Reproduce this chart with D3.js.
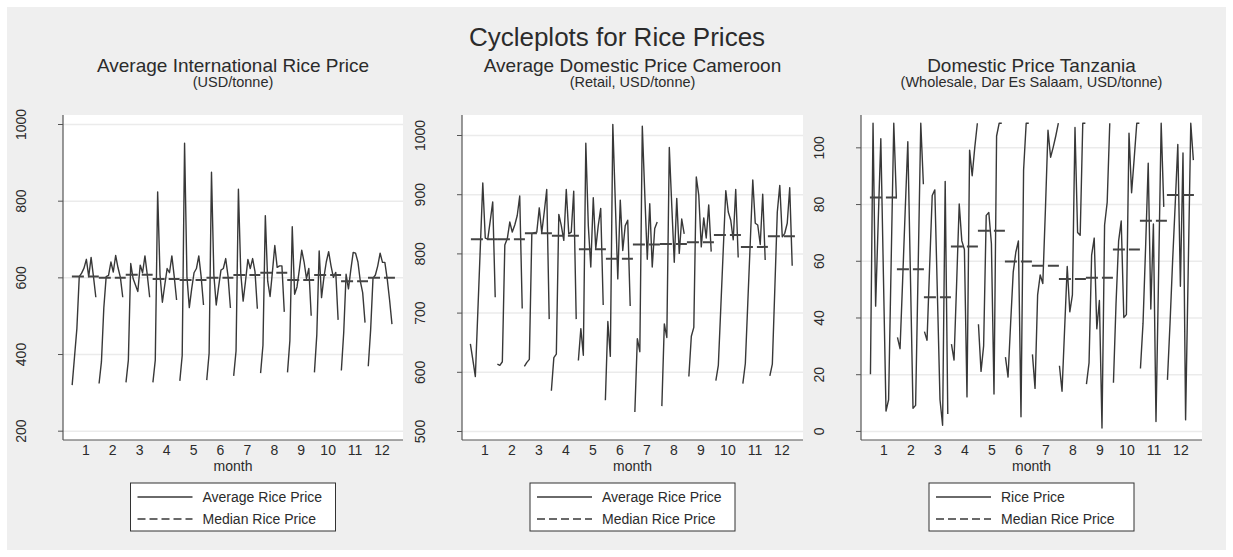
<!DOCTYPE html>
<html>
<head>
<meta charset="utf-8">
<script src="https://d3js.org/d3.v7.min.js"></script>
<style>
	body { margin: 0; background: #ffffff; }
	svg { display: block; font-family: "Liberation Sans", Arial, sans-serif; }
</style>
</head>
<body>
<svg id="svg_main" width="1233" height="557"></svg>
<script>
// months on the x axis
var months = [1, 2, 3, 4, 5, 6, 7, 8, 9, 10, 11, 12];

// average international price, one row per month, one value per year
var intlPrice = [
	[319, 393, 467, 602, 611, 624, 647, 602, 652, 602, 548],
	[323, 380, 520, 602, 605, 640, 614, 657, 625, 600, 548],
	[326, 384, 636, 597, 580, 563, 632, 612, 656, 606, 548],
	[326, 384, 823, 606, 535, 580, 623, 612, 656, 602, 541],
	[330, 396, 950, 602, 521, 570, 612, 623, 656, 602, 528],
	[332, 402, 874, 606, 528, 575, 619, 623, 649, 602, 520],
	[343, 408, 830, 610, 538, 590, 647, 623, 649, 615, 518],
	[350, 423, 761, 590, 550, 615, 683, 626, 630, 630, 510],
	[352, 435, 732, 556, 575, 620, 671, 640, 597, 623, 500],
	[352, 450, 669, 547, 600, 640, 667, 630, 600, 613, 489],
	[357, 456, 608, 570, 620, 665, 663, 640, 590, 560, 482],
	[368, 463, 598, 606, 630, 663, 639, 639, 596, 541, 478]
];
var intlMedian = [602, 599, 607, 596, 593, 599, 606, 612, 593, 606, 590, 599];

// Cameroon retail price
var camPrice = [
	[647, 620, 592, 701, 810, 919, 826, 824, 855, 887, 726],
	[613, 611, 617, 814, 825, 853, 836, 848, 864, 897, 707],
	[609, 616, 621, 833, 835, 836, 877, 835, 870, 908, 689],
	[568, 624, 630, 866, 847, 822, 908, 833, 836, 905, 689],
	[619, 673, 628, 986, 847, 777, 894, 808, 847, 876, 713],
	[552, 685, 626, 1018, 887, 757, 890, 805, 847, 856, 711],
	[null, 532, 656, 634, 1015, 900, 790, 884, 777, 842, 853],
	[null, 542, 681, 658, 979, 880, 785, 893, 800, 858, 833],
	[null, 592, 660, 675, 929, 898, 811, 860, 826, 882, 803],
	[null, 585, 611, 709, 808, 906, 870, 856, 823, 908, 793],
	[null, 580, 614, 717, 820, 924, 851, 848, 815, 900, 789],
	[null, 593, 613, 740, 870, 915, 828, 834, 851, 911, 779]
];
var camMedian = [824, 824, 834, 830, 807, 791, 815, 816, 819, 831, 811, 829];

// Tanzania wholesale price
var tzaPrice = [
	[20, 108.5, 44, 74, 103, 55, 7, 11, 60, 108.5, 82],
	[33, 29, 53, 78, 102, 55, 8, 9, 58, 108.5, 87],
	[35, 32, 58, 83, 85, 48, 11, 2, 88, 6, null],
	[30.6, 25, 52, 80, 67, 64, 12, 99, 90, 100, 108.5],
	[37.6, 21, 30, 76, 77, 66, 13, 104, 108.5, 108.5, null],
	[26, 19, 38, 56, 63, 67, 5, 92, 108.5, 108.5, null],
	[27, 15, 48, 55, 52, 78, 106, 96.5, 100, 104, 108.5],
	[23, 14, 36, 58, 42, 48, 107, 70, 69, 108.5, 108.5],
	[16.5, 24, 62, 68, 36, 46, 1, 72.6, 80.6, 108.5, null],
	[17, 45, 67, 74, 40, 41, 105, 84, 96, 108.5, 108.5],
	[22, 38, 65, 94.4, 43, 73, 3.3, 55, 108.5, 79, null],
	[18, 38, 60, 80, 101, 51, 98, 3.9, 56, 108.5, 95.5]
];
var tzaMedian = [82.3, 57, 47.1, 65, 70.6, 59.7, 58.2, 53.6, 54, 64, 74.1, 83.2];

var intlTicks = [200, 400, 600, 800, 1000];
var camTicks = [500, 600, 700, 800, 900, 1000];
var tzaTicks = [0, 20, 40, 60, 80, 100];

var panels = [
	{ title: "Average International Rice Price", sub: "(USD/tonne)",
		data: intlPrice, median: intlMedian, ticks: intlTicks, domain: [175.7, 1023.5],
		left: 63, right: 403, start: -0.49, step: 0.088,
		legend: ["Average Rice Price", "Median Rice Price"] },
	{ title: "Average Domestic Price Cameroon", sub: "(Retail, USD/tonne)",
		data: camPrice, median: camMedian, ticks: camTicks, domain: [484.8, 1033.8],
		left: 462, right: 803, start: -0.52, step: 0.092,
		legend: ["Average Rice Price", "Median Rice Price"] },
	{ title: "Domestic Price Tanzania", sub: "(Wholesale, Dar Es Salaam, USD/tonne)",
		data: tzaPrice, median: tzaMedian, ticks: tzaTicks, domain: [-3.2, 111.4],
		left: 861, right: 1202, start: -0.48, step: 0.096,
		legend: ["Rice Price", "Median Rice Price"] }
];

var plotTop = 115, plotBottom = 440;
var ink = "#383838";

var svg = d3.select("#svg_main");

svg.append("rect")
	.attr("x", 7).attr("y", 7)
	.attr("width", 1219).attr("height", 543)
	.attr("fill", "#efefef");

svg.append("text")
	.attr("x", 617).attr("y", 46)
	.attr("text-anchor", "middle")
	.attr("font-size", "26px")
	.attr("fill", "#2b2b2b")
	.text("Cycleplots for Rice Prices");

function drawPanel(p) {
	var x = d3.scaleLinear().domain([0.17, 12.8]).range([p.left, p.right]);
	var y = d3.scaleLinear().domain(p.domain).range([plotBottom, plotTop]);
	var mid = (p.left + p.right) / 2;

	var g = svg.append("g");

	g.append("rect")
		.attr("x", p.left).attr("y", plotTop)
		.attr("width", p.right - p.left).attr("height", plotBottom - plotTop)
		.attr("fill", "#ffffff");

	// gridlines
	g.append("g")
		.attr("transform", `translate(${p.left}, 0)`)
		.call(d3.axisLeft(y).tickValues(p.ticks).tickSize(-(p.right - p.left)).tickFormat(""))
		.call(a => a.select(".domain").remove())
		.selectAll("line")
			.attr("stroke", "#ebebeb")
			.attr("stroke-width", 1.5);

	// titles
	g.append("text")
		.attr("x", mid).attr("y", 72)
		.attr("text-anchor", "middle")
		.attr("font-size", "19px")
		.attr("fill", "#2b2b2b")
		.text(p.title);
	g.append("text")
		.attr("x", mid).attr("y", 87)
		.attr("text-anchor", "middle")
		.attr("font-size", "14.5px")
		.attr("fill", "#2b2b2b")
		.text(p.sub);

	// series, one broken line per month
	var line = d3.line()
		.defined(d => d.v != null)
		.x(d => x(d.m + p.start + d.i * p.step))
		.y(d => y(d.v));

	months.forEach((m, k) => {
		var pts = p.data[k].map((v, i) => ({ m: m, i: i, v: v }));
		g.append("path")
			.datum(pts)
			.attr("fill", "none")
			.attr("stroke", ink)
			.attr("stroke-width", 1.4)
			.attr("stroke-linejoin", "round")
			.attr("d", line);
	});

	// median per month
	g.selectAll(".median")
		.data(months)
		.enter().append("line")
		.attr("class", "median")
		.attr("x1", m => x(m - 0.5))
		.attr("x2", m => x(m + 0.5))
		.attr("y1", (m, k) => y(p.median[k]))
		.attr("y2", (m, k) => y(p.median[k]))
		.attr("stroke", "#444444")
		.attr("stroke-width", 2)
		.attr("stroke-dasharray", "12,4");

	// y axis
	var yAxis = g.append("g")
		.attr("transform", `translate(${p.left}, 0)`)
		.call(d3.axisLeft(y).tickValues(p.ticks).tickFormat(d3.format("d")).tickSize(5).tickSizeOuter(0));
	yAxis.select(".domain").remove();
	yAxis.selectAll("line").attr("stroke", "#555555");
	yAxis.selectAll("text")
		.attr("transform", "rotate(-90)")
		.attr("x", 0).attr("y", -37).attr("dy", 0)
		.attr("text-anchor", "middle")
		.attr("font-size", "14px")
		.attr("fill", "#2b2b2b");
	g.append("line")
		.attr("x1", p.left).attr("x2", p.left)
		.attr("y1", plotTop).attr("y2", plotBottom)
		.attr("stroke", "#555555").attr("stroke-width", 1.2);

	// x axis
	var xAxis = g.append("g")
		.attr("transform", `translate(0, ${plotBottom})`)
		.call(d3.axisBottom(x).tickValues(months).tickSize(0).tickPadding(5));
	xAxis.select(".domain").remove();
	xAxis.selectAll("text")
		.attr("font-size", "14px")
		.attr("fill", "#2b2b2b");
	g.append("line")
		.attr("x1", p.left).attr("x2", p.right)
		.attr("y1", plotBottom).attr("y2", plotBottom)
		.attr("stroke", "#555555").attr("stroke-width", 1.2);

	g.append("text")
		.attr("x", mid).attr("y", 471)
		.attr("text-anchor", "middle")
		.attr("font-size", "14px")
		.attr("fill", "#2b2b2b")
		.text("month");

	// legend
	var lw = 205, lh = 48;
	var lx = mid - lw / 2, ly = 483;
	var legend = g.append("g").attr("transform", `translate(${lx}, ${ly})`);
	legend.append("rect")
		.attr("width", lw).attr("height", lh)
		.attr("fill", "#ffffff")
		.attr("stroke", "#333333").attr("stroke-width", 1);
	p.legend.forEach((t, i) => {
		var ry = 14 + i * 22;
		legend.append("line")
			.attr("x1", 7).attr("x2", 62)
			.attr("y1", ry).attr("y2", ry)
			.attr("stroke", ink)
			.attr("stroke-width", 1.3)
			.attr("stroke-dasharray", i == 1 ? "8,4" : null);
		legend.append("text")
			.attr("x", 72).attr("y", ry + 5)
			.attr("font-size", "14px")
			.attr("fill", "#2b2b2b")
			.text(t);
	});
}

panels.forEach(drawPanel);
</script>
</body>
</html>
